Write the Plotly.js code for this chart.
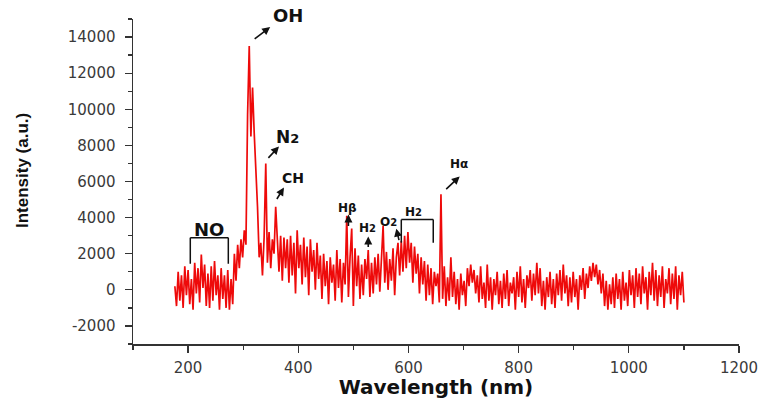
<!DOCTYPE html>
<html><head><meta charset="utf-8">
<script src="https://cdn.plot.ly/plotly-3.0.1.min.js"></script>
<style>body{margin:0;background:#fff}#c{width:764px;height:399px}</style>
</head><body><div id="c"></div>
<script>
// Sampling grid (nm): start and step of the spectrometer readout
const wlStart = 176, wlStep = 3;
// Intensity (a.u.), 30 nm per row
const intensity = [
  200, -900, 1000, -600, 800, -1000, 1300, -300, 1100, -800,
  600, -1100, 1500, -200, 1200, -700, 1950, 100, 1400, -900,
  900, -1000, 1300, -600, 1600, -300, 800, -1100, 1200, -500,
  800, -1000, 1100, -1100, 600, -800, 2000, 500, 2500, 1200,
  2800, 1800, 3300, 2500, 9700, 13500, 8500, 11200, 8700, 7000,
  4600, 1800, 2600, 800, 2900, 7000, 1500, 3200, 1200, 2800,
  2000, 4600, 2400, 1000, 3000, 500, 2900, 1200, 2800, 400,
  3000, 800, 2600, -200, 3300, 1200, 2500, 300, 2900, 700,
  2400, -300, 2800, 1000, 2200, 0, 2600, 600, 1900, -500,
  2000, 200, 1600, -800, 1800, 400, 1400, -600, 2200, 100,
  1700, -700, 1500, 300, 4100, -400, 1800, 3400, -900, 2300,
  200, 1900, -500, 1400, -300, 1700, 600, 2200, -400, 1500,
  -200, 1800, 300, 2000, -100, 1600, 3550, 400, 2100, 0,
  1700, 500, 2300, -300, 1800, 2600, 800, 2700, 1000, 3000,
  1200, 3200, 1500, 2600, 400, 2400, 900, 2000, -200, 1800,
  300, 1600, -600, 1400, -300, 1200, -800, 1000, 200, 900,
  -700, 5300, -500, 1300, -900, 700, -600, 1800, -400, 1000,
  -800, 600, -1100, 900, -300, 500, -900, 1200, 200, 1400,
  400, 1100, -200, 800, -700, 1300, -500, 400, -1000, 1400,
  -600, 700, -1100, 600, -300, 1000, -800, 500, -1000, 900,
  -500, 1100, -900, 400, -200, 700, -1100, 1000, -400, 1300,
  -700, 600, -1000, 800, 100, 1100, -600, 900, -300, 1500,
  -200, 1200, -900, 500, -1100, 700, -400, 1000, -800, 600,
  -1000, 900, -300, 1100, -600, 1400, -200, 800, -900, 700,
  -700, 1000, -400, 600, -1100, 800, 0, 1200, -500, 900,
  100, 1300, 500, 1500, 700, 1400, 300, 1100, -200, 900,
  -900, 500, -1100, 300, -800, 700, -1000, 900, -500, 600,
  -1100, 1000, -600, 400, -900, 1100, -300, 800, -1000, 1200,
  -400, 900, -800, 1300, -200, 700, -1100, 1000, -300, 1500,
  -600, 1100, -900, 800, -400, 1300, -1000, 600, -200, 1200,
  -800, 900, -500, 1300, -1100, 800, -300, 1000, -700
];
const wavelength = intensity.map((_, i) => wlStart + i * wlStep);

const xTicks = [200, 400, 600, 800, 1000, 1200];
const xTickText = ['200', '400', '600', '800', '1000', '1200'];
const yTicks = [-2000, 0, 2000, 4000, 6000, 8000, 10000, 12000, 14000];
const yTickText = ['-2000', '0', '2000', '4000', '6000', '8000', '10000', '12000', '14000'];

// Labels: [text, x(nm), y(a.u.), font size]
const labels = [
  ['OH', 382, 15220, 18],
  ['N<span style="font-size:13px">2</span>', 380, 8440, 17],
  ['CH', 391, 6220, 14],
  ['NO', 238, 3333, 18],
  ['H\u03b2', 489, 4556, 12],
  ['H<span style="font-size:10px">2</span>', 525, 3444, 12],
  ['O<span style="font-size:10px">2</span>', 563, 3778, 12],
  ['H<span style="font-size:10px">2</span>', 609, 4333, 12],
  ['H\u03b1', 691, 6944, 12]
];
// Arrows: [head x(nm), head y, tail dx(px), tail dy(px)]
const arrows = [
  [349, 14556, -17, 13],
  [365, 7944, -12, 13],
  [374, 5667, -8, 13],
  [491, 4167, 0, 13],
  [527, 2950, 0, 12],
  [578, 3389, 3, 13],
  [693, 6278, -15, 14]
];
// Brackets: [x0, x1, yTop, yBottom]
const brackets = [
  [204, 273, 2889, 1444],
  [587, 645, 3889, 2611]
];

const trace = {
  x: wavelength, y: intensity, type: 'scatter', mode: 'lines',
  line: {color: '#ee0a0a', width: 1.7}, hoverinfo: 'skip'
};

const toPaperY = v => (v + 3000) / 18000;
const ann = labels.map(l => ({
  text: '<b>' + l[0] + '</b>', x: l[1], y: toPaperY(l[2]), xref: 'x', yref: 'paper',
  xanchor: 'center', yanchor: 'middle',
  showarrow: false, font: {family: 'DejaVu Sans', size: l[3], color: '#111'}
})).concat(arrows.map(a => ({
  text: '', x: a[0], y: toPaperY(a[1]), xref: 'x', yref: 'paper', ax: a[2], ay: a[3],
  showarrow: true, arrowhead: 2, arrowsize: 1, arrowwidth: 1.6, arrowcolor: '#111'
}))).concat([{
  text: '<b>Intensity (a.u.)</b>', textangle: -90, xref: 'paper', yref: 'paper',
  x: (22 - 133) / 606, y: (344 - 171) / 325, xanchor: 'center', yanchor: 'middle',
  showarrow: false, font: {family: 'Liberation Sans, Arial', size: 17, color: '#111'}
}]);

const shapes = [];
brackets.forEach(b => {
  const st = {type: 'line', xref: 'x', yref: 'y', line: {color: '#111', width: 1.5}};
  shapes.push(Object.assign({x0: b[0], x1: b[0], y0: b[3], y1: b[2]}, st));
  shapes.push(Object.assign({x0: b[0], x1: b[1], y0: b[2], y1: b[2]}, st));
  shapes.push(Object.assign({x0: b[1], x1: b[1], y0: b[2], y1: b[3]}, st));
});

const layout = {
  width: 764, height: 399,
  margin: {l: 133, r: 25, t: 19, b: 55},
  paper_bgcolor: '#fff', plot_bgcolor: '#fff',
  showlegend: false,
  font: {family: 'DejaVu Sans', color: '#333'},
  xaxis: {
    range: [100, 1200], tickvals: xTicks, ticktext: xTickText, ticks: 'outside', ticklen: 7, tickwidth: 1.3,
    tickcolor: '#333', showline: true, linecolor: '#333', linewidth: 1.5, ticklabelstandoff: 2,
    showgrid: false, zeroline: false, tickfont: {family: 'DejaVu Sans', size: 15, color: '#3a3a3a'},
    minor: {dtick: 100, tick0: 100, ticks: 'outside', ticklen: 4, tickcolor: '#333', showgrid: false},
    title: {text: '<b>Wavelength (nm)</b>', font: {family: 'DejaVu Sans', size: 20, color: '#111'}, standoff: 7}
  },
  yaxis: {
    range: [-3000, 15000], tickvals: yTicks, ticktext: yTickText, ticks: 'outside', ticklen: 7, tickwidth: 1.3,
    tickcolor: '#333', showline: true, linecolor: '#333', linewidth: 1.5, ticklabelstandoff: 6,
    showgrid: false, zeroline: false, tickfont: {family: 'DejaVu Sans', size: 15, color: '#3a3a3a'},
    minor: {dtick: 1000, tick0: 0, ticks: 'outside', ticklen: 4, tickcolor: '#333', showgrid: false}
  },
  annotations: ann,
  shapes: shapes
};

Plotly.newPlot('c', [trace], layout, {staticPlot: true, displayModeBar: false});
</script></body></html>
